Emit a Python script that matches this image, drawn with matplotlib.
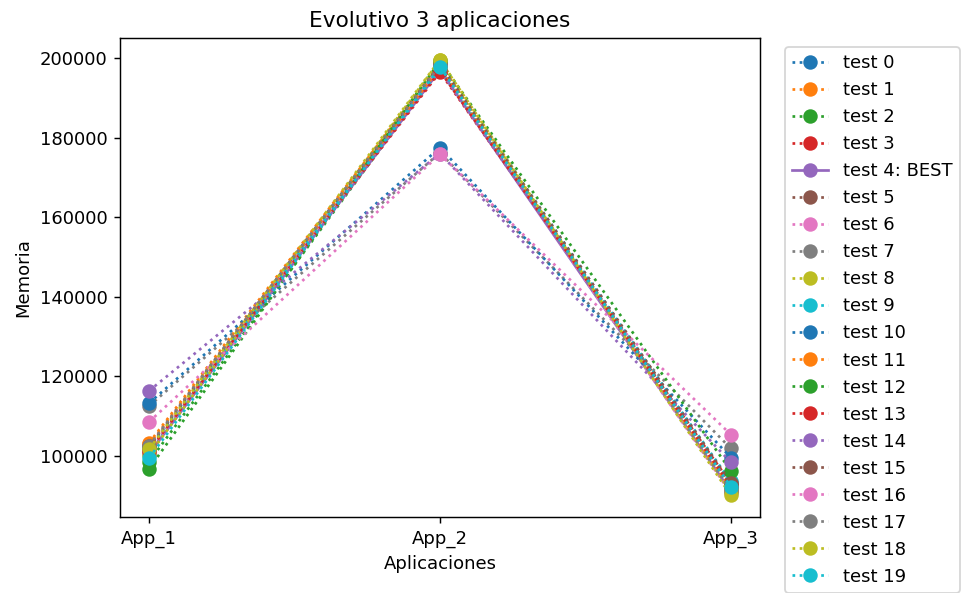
import matplotlib

matplotlib.use("Agg")
import matplotlib.pyplot as plt


APPS = ["App_1", "App_2", "App_3"]
LABELS = [f"test {i}" for i in range(20)]
BEST = 4

TEST_0 = [100800, 198800, 92800]
TEST_1 = [103200, 198500, 91500]
TEST_2 = [98500, 197500, 92000]
TEST_3 = [101500, 196500, 93000]
TEST_4 = [100500, 197000, 91000]
TEST_5 = [102000, 198000, 92500]
TEST_6 = [101000, 197800, 90500]
TEST_7 = [112500, 176200, 101800]
TEST_8 = [100200, 199500, 90800]
TEST_9 = [101800, 197200, 93500]
TEST_10 = [113200, 177500, 99500]
TEST_11 = [102800, 197600, 91800]
TEST_12 = [96700, 199300, 96200]
TEST_13 = [101200, 196800, 92400]
TEST_14 = [116300, 176000, 98300]
TEST_15 = [102300, 198400, 93200]
TEST_16 = [108500, 175800, 105300]
TEST_17 = [102500, 198200, 91200]
TEST_18 = [101600, 199600, 90000]
TEST_19 = [99400, 197800, 92200]

TESTS = [
    TEST_0, TEST_1, TEST_2, TEST_3, TEST_4, TEST_5, TEST_6, TEST_7, TEST_8, TEST_9,
    TEST_10, TEST_11, TEST_12, TEST_13, TEST_14, TEST_15, TEST_16, TEST_17, TEST_18, TEST_19,
]

DPI = 130


def main():
    fig = plt.figure(figsize=(968 / DPI, 593 / DPI), dpi=DPI)
    ax = fig.add_subplot(111)
    fig.subplots_adjust(left=0.124, right=0.785, top=0.936, bottom=0.128)

    for i, values in enumerate(TESTS):
        if i == BEST:
            ax.plot(APPS, values, marker="o", markersize=7, linestyle="-",
                    label=f"{LABELS[i]}: BEST")
        else:
            ax.plot(APPS, values, marker="o", markersize=7, linestyle=":",
                    label=LABELS[i])

    ax.set_title("Evolutivo 3 aplicaciones")
    ax.set_xlabel("Aplicaciones")
    ax.set_ylabel("Memoria")
    ax.legend(loc="upper left", bbox_to_anchor=(1.025, 1.0))

    fig.savefig("out.png", dpi=DPI)
    plt.close(fig)


if __name__ == "__main__":
    main()
